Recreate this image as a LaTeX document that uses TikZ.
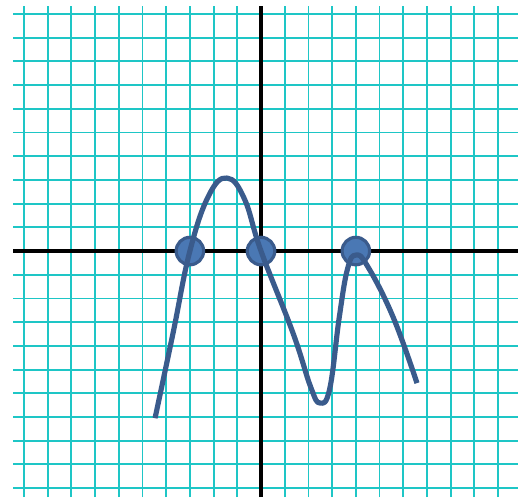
\documentclass[tikz,border=0pt]{standalone}
\usepackage{tikz}
\usetikzlibrary{positioning}
\definecolor{gridcyan}{HTML}{1EC6C6}
\definecolor{curveblue}{HTML}{3A5B8C}
\definecolor{dotblue}{HTML}{4A78B4}

\begin{document}
\begin{tikzpicture}[x=0.5cm,y=0.5cm]
  \tikzset{gridline/.style={draw=gridcyan,line width=1.1pt},
    axis/.style={draw=black,line width=2.8pt},
    root/.style={circle,draw=curveblue,line width=1.9pt,fill=dotblue,minimum size=16.5pt,inner sep=0pt}}
  \useasboundingbox (-11.01,-10.38) rectangle (11.22,10.59);
  % grid
  \foreach \i in {-10,...,10} {
    \draw[gridline] (\i,-10.38) -- (\i,10.34);
    \draw[gridline] (-10.46,\i) -- (10.84,\i);
  }
  % axes
  \draw[axis] (-10.46,0) -- (10.84,0);
  \draw[axis] (0,-10.38) -- (0,10.34);
  % roots
  \node[root] (r1) at (-3,0) {};
  \node[root] (r2) at (0,0) {};
  \node[root] (r3) at (4,0) {};
  % graph
  \draw[curveblue,line width=3.1pt,line join=round] plot[smooth,tension=0.7] coordinates {
    (-4.47,-7.05) (-3.71,-3.46) (-3,0) (-2.2,2.35) (-1.43,3.08) (-0.7,2.2) (0,0)
    (1.35,-3.46) (2.1,-5.75) (2.49,-6.41) (2.9,-5.8) (3.3,-2.8) (3.65,-0.75)
    (4.0,-0.17) (4.5,-0.65) (5.57,-2.78) (6.58,-5.57)};
\end{tikzpicture}
\end{document}
